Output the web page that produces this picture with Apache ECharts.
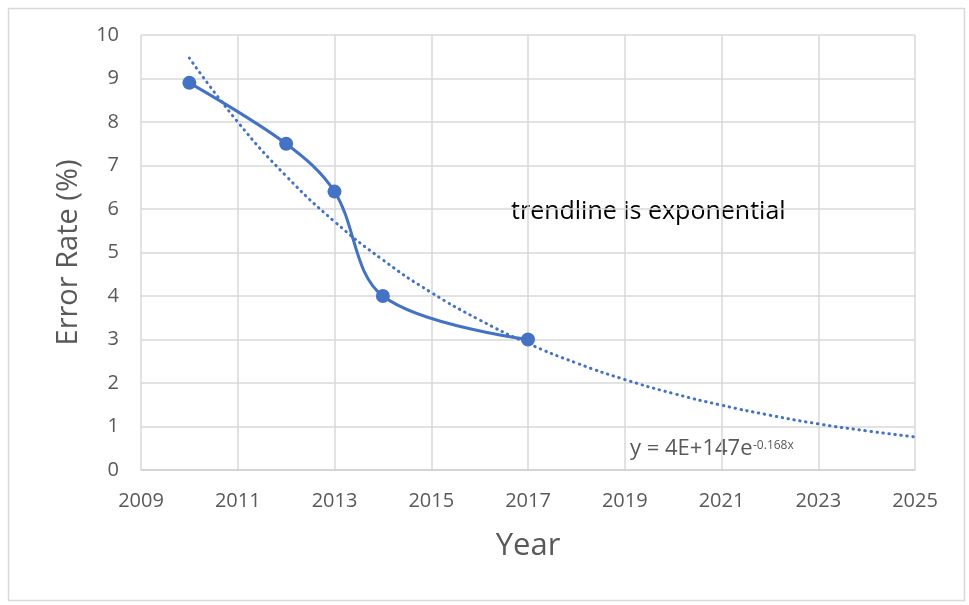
<!DOCTYPE html>
<html><head><meta charset="utf-8">
<script src="https://cdn.jsdelivr.net/npm/echarts@6/dist/echarts.min.js"></script>
<style>html,body{margin:0;padding:0;background:#fff}#c{width:969px;height:605px}</style>
</head><body><div id="c"></div>
<script>
const years = [2010, 2012, 2013, 2014, 2017];
const errorRates = [8.9, 7.5, 6.4, 4.0, 3.0];
const trendYears = [2010, 2011, 2012, 2013, 2014, 2015, 2016, 2017, 2018, 2019, 2020, 2021, 2022, 2023, 2024, 2025];
const trendValues = [9.47, 8.0, 6.76, 5.71, 4.83, 4.08, 3.45, 2.91, 2.46, 2.08, 1.76, 1.49, 1.26, 1.06, 0.9, 0.76];
const xTitle = 'Year';
const yTitle = 'Error Rate (%)';
const note = 'trendline is exponential';
const eqMain = 'y = 4E+147e';
const eqSup = '-0.168x';

const font = '"Open Sans", "Liberation Sans", sans-serif';
const chart = echarts.init(document.getElementById('c'), null, {renderer: 'canvas'});
chart.setOption({
  animation: false,
  backgroundColor: '#fff',
  grid: {left: 141, right: 54, top: 35, bottom: 135, containLabel: false},
  xAxis: {
    type: 'value', min: 2009, max: 2025, interval: 2,
    name: xTitle, nameLocation: 'middle', nameGap: 61,
    nameTextStyle: {fontSize: 31, color: '#595959', fontFamily: font},
    axisLine: {show: true, lineStyle: {color: '#d0d0d0', width: 1.5}},
    axisTick: {show: false},
    axisLabel: {fontSize: 20, color: '#595959', fontFamily: font, margin: 21,
                formatter: v => String(v)},
    splitLine: {show: true, lineStyle: {color: '#d9d9d9', width: 1.5}}
  },
  yAxis: {
    type: 'value', min: 0, max: 10, interval: 1,
    name: yTitle, nameLocation: 'middle', nameGap: 58, nameRotate: 90,
    nameTextStyle: {fontSize: 29, color: '#595959', fontFamily: font},
    axisLine: {show: false},
    axisTick: {show: false},
    axisLabel: {fontSize: 20, color: '#595959', fontFamily: font, margin: 22},
    splitLine: {show: true, lineStyle: {color: '#d9d9d9', width: 1.5}}
  },
  series: [
    {
      type: 'line', name: 'trend', smooth: true, symbol: 'none',
      data: trendYears.map((x, i) => [x, trendValues[i]]),
      lineStyle: {color: '#4472C4', width: 3, type: [0.5, 5.5], cap: 'round'},
      z: 2
    },
    {
      type: 'line', name: 'error', smooth: 0.35, symbol: 'circle', symbolSize: 14,
      data: years.map((x, i) => [x, errorRates[i]]),
      lineStyle: {color: '#4472C4', width: 3},
      itemStyle: {color: '#4472C4'},
      z: 3
    }
  ],
  graphic: [
    {type: 'rect', left: 6, top: 6, shape: {width: 956, height: 592},
     style: {fill: 'none', stroke: '#d9d9d9', lineWidth: 1.5}, silent: true},
    {type: 'text', x: 511, y: 212,
     style: {text: note, fontSize: 25, fill: '#000', fontFamily: font, verticalAlign: 'middle'}},
    {type: 'text', x: 630, y: 449,
     style: {text: eqMain, fontSize: 22, fill: '#595959', fontFamily: font, verticalAlign: 'middle'}},
    {type: 'text', x: 753, y: 446,
     style: {text: eqSup, fontSize: 12, fill: '#595959', fontFamily: font, verticalAlign: 'middle'}}
  ]
});
</script></body></html>
